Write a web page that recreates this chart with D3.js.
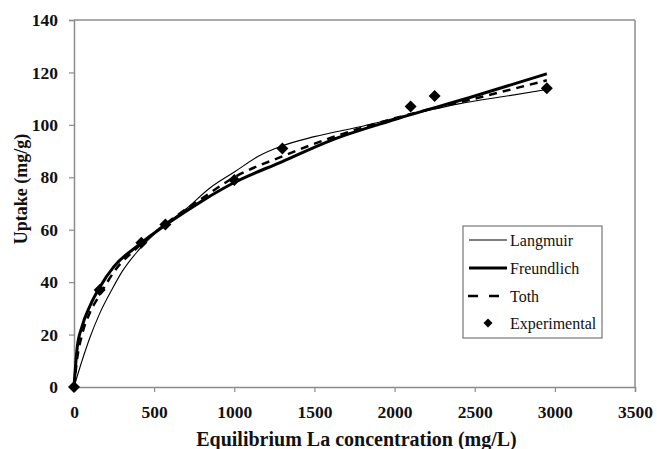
<!DOCTYPE html>
<html>
<head>
<meta charset="utf-8">
<script src="https://cdn.jsdelivr.net/npm/d3@7"></script>
<style>
  body { margin: 0; background: #fff; }
</style>
</head>
<body>
<div id="chart"></div>
<script>
// values
var expC = [0, 160, 420, 570, 1000, 1300, 2100, 2250, 2950];
var expQ = [0, 37, 55, 62, 79, 91, 107, 111, 114];

var langC = [0, 50, 100, 160, 235, 300, 400, 550, 700, 850, 1000, 1150, 1300, 1500, 1800, 2100, 2400, 2700, 2950];
var langQ = [0, 10, 19, 28, 37, 44, 52, 61, 68, 76, 82, 88, 92, 95.5, 99.5, 104, 108, 111, 113.5];

var freuC = [0, 20, 50, 100, 160, 250, 400, 600, 800, 1000, 1300, 1600, 2000, 2500, 2950];
var freuQ = [0, 15, 23, 31, 38, 46, 54, 63, 71, 78, 86, 94, 102, 111, 119.5];

var tothC = [0, 20, 50, 100, 160, 250, 400, 600, 800, 1000, 1300, 1600, 2000, 2500, 2950];
var tothQ = [0, 11, 20, 28.5, 35, 44, 53.5, 63.5, 72, 80, 88, 95, 102.5, 110, 117];

var xTicks = [0, 500, 1000, 1500, 2000, 2500, 3000, 3500];
var yTicks = [0, 20, 40, 60, 80, 100, 120, 140];

var legendNames = ["Langmuir", "Freundlich", "Toth", "Experimental"];

var W = 657, H = 449;
var margin = { top: 20, right: 22, bottom: 62, left: 74 },
    width = W - margin.left - margin.right,
    height = H - margin.top - margin.bottom;

var serif = "Liberation Serif";

var svg = d3.select("#chart")
    .append("svg")
    .attr("width", W)
    .attr("height", H)
    .attr("font-family", serif)
    .append("g")
    .attr("transform", "translate(" + margin.left + "," + margin.top + ")");

var x = d3.scaleLinear().domain([0, 3500]).range([0, width]);
var y = d3.scaleLinear().domain([0, 140]).range([height, 0]);

var axisColor = "#8c8c8c";

// frame (top and right)
svg.append("line").attr("x1", 0).attr("x2", width).attr("y1", 0).attr("y2", 0)
    .attr("stroke", axisColor).attr("stroke-width", 1.5);
svg.append("line").attr("x1", width).attr("x2", width).attr("y1", 0).attr("y2", height)
    .attr("stroke", axisColor).attr("stroke-width", 1.5);

var xAxis = svg.append("g")
    .attr("transform", "translate(0," + height + ")")
    .call(d3.axisBottom(x).tickValues(xTicks).tickSize(5).tickPadding(14).tickFormat(d3.format("d")));
var yAxis = svg.append("g")
    .call(d3.axisLeft(y).tickValues(yTicks).tickSize(5).tickPadding(11).tickFormat(d3.format("d")));

[xAxis, yAxis].forEach(function (a) {
    a.attr("font-family", serif).attr("font-size", 17.5).attr("font-weight", "bold");
    a.select(".domain").attr("stroke", axisColor).attr("stroke-width", 1.5);
    a.selectAll(".tick line").attr("stroke", axisColor).attr("stroke-width", 1.2);
    a.selectAll("text").attr("fill", "#111");
});

// axis titles
svg.append("text")
    .attr("x", width / 2 + 2)
    .attr("y", height + 59)
    .attr("text-anchor", "middle")
    .attr("font-size", 20)
    .attr("font-weight", "bold")
    .attr("fill", "#111")
    .text("Equilibrium La concentration (mg/L)");

svg.append("text")
    .attr("transform", "translate(" + (-47) + "," + (169) + ")rotate(-90)")
    .attr("text-anchor", "middle")
    .attr("font-size", 18)
    .attr("font-weight", "bold")
    .attr("fill", "#111")
    .text("Uptake (mg/g)");

var line = d3.line()
    .x(function (d) { return x(d[0]); })
    .y(function (d) { return y(d[1]); })
    .curve(d3.curveMonotoneX);

function pairs(a, b) { return a.map(function (v, i) { return [v, b[i]]; }); }

svg.append("path")
    .attr("d", line(pairs(langC, langQ)))
    .attr("fill", "none").attr("stroke", "#000").attr("stroke-width", 1.1);

svg.append("path")
    .attr("d", line(pairs(freuC, freuQ)))
    .attr("fill", "none").attr("stroke", "#000").attr("stroke-width", 3);

svg.append("path")
    .attr("d", line(pairs(tothC, tothQ)))
    .attr("fill", "none").attr("stroke", "#000").attr("stroke-width", 2.5)
    .attr("stroke-dasharray", "8,6");

var diamond = d3.symbol().type(d3.symbolSquare).size(72);

svg.selectAll(".pt")
    .data(pairs(expC, expQ))
    .enter()
    .append("path")
    .attr("class", "pt")
    .attr("d", diamond)
    .attr("transform", function (d) { return "translate(" + x(d[0]) + "," + y(d[1]) + ")rotate(45)"; })
    .attr("fill", "#000");

// legend
var lg = svg.append("g").attr("transform", "translate(" + (463 - margin.left) + "," + (226 - margin.top) + ")");
lg.append("rect")
    .attr("width", 139).attr("height", 112)
    .attr("fill", "#fff").attr("stroke", "#777").attr("stroke-width", 1.2);

var rowY = [14, 42, 70, 97];
lg.selectAll(".lt")
    .data(legendNames)
    .enter()
    .append("text")
    .attr("x", 47)
    .attr("y", function (d, i) { return rowY[i]; })
    .attr("dy", "0.35em")
    .attr("font-size", 16)
    .attr("fill", "#111")
    .text(function (d) { return d; });

lg.append("line").attr("x1", 6).attr("x2", 44).attr("y1", rowY[0]).attr("y2", rowY[0])
    .attr("stroke", "#000").attr("stroke-width", 1.1);
lg.append("line").attr("x1", 6).attr("x2", 44).attr("y1", rowY[1]).attr("y2", rowY[1])
    .attr("stroke", "#000").attr("stroke-width", 3);
lg.append("line").attr("x1", 5).attr("x2", 37).attr("y1", rowY[2]).attr("y2", rowY[2])
    .attr("stroke", "#000").attr("stroke-width", 2.5).attr("stroke-dasharray", "10,11");
lg.append("path")
    .attr("d", d3.symbol().type(d3.symbolSquare).size(40))
    .attr("transform", "translate(25," + rowY[3] + ")rotate(45)")
    .attr("fill", "#000");
</script>
</body>
</html>
